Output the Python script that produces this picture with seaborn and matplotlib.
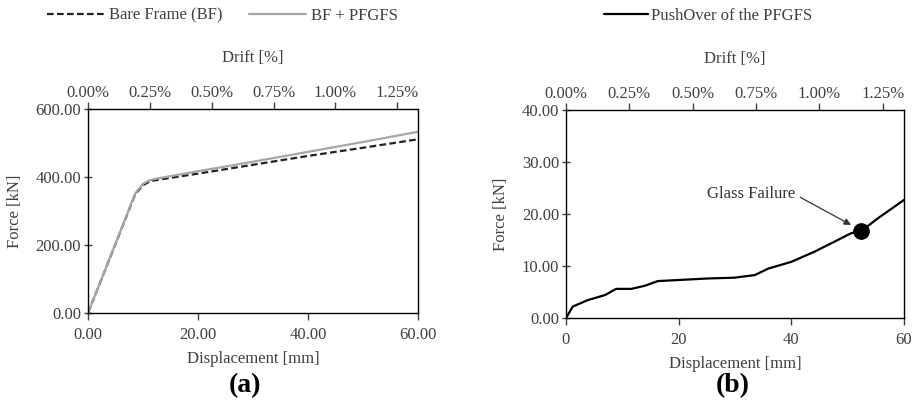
import numpy as np
import pandas as pd
import matplotlib
matplotlib.use("Agg")
import matplotlib.pyplot as plt
import seaborn as sns

# panel (a): bare frame vs frame + glass facade
bf_disp = [0, 8.6, 10.0, 11.0, 12.0, 20.0, 30.0, 40.0, 50.0, 60.0]
bf_force = [0, 350, 376, 385, 390, 410, 436, 462, 486, 511]
pf_disp = [0, 8.6, 10.0, 11.0, 12.0, 20.0, 30.0, 40.0, 50.0, 60.0]
pf_force = [0, 352, 380, 389, 394, 417, 445, 474, 503, 533]

# panel (b): pushover of the PFGFS
po_disp = [0, 1.2, 3.9, 6.9, 8.9, 11.6, 14.0, 16.3, 19.9, 25.2, 29.9, 33.5,
           35.9, 40.0, 44.1, 47.7, 50.6, 52.4, 55.4, 60.0]
po_force = [0, 2.2, 3.45, 4.4, 5.6, 5.6, 6.2, 7.1, 7.3, 7.6, 7.75, 8.25,
            9.5, 10.8, 12.75, 14.7, 16.3, 16.7, 19.2, 22.7]
fail_disp, fail_force = 52.4, 16.7

drift_ticks = [0.0, 0.25, 0.50, 0.75, 1.00, 1.25]
story_h = 4500.0  # mm

sns.set_style("white")
plt.rcParams['font.family'] = ['Liberation Serif', 'DejaVu Serif']
plt.rcParams['font.size'] = 12
txt = '#404040'
plt.rcParams['text.color'] = txt
plt.rcParams['axes.labelcolor'] = txt
plt.rcParams['xtick.color'] = txt
plt.rcParams['ytick.color'] = txt

fig = plt.figure(figsize=(9.16, 4.08), dpi=100)
ax1 = fig.add_axes([0.0961, 0.2328, 0.3602, 0.5000])
ax2 = fig.add_axes([0.6179, 0.2206, 0.3690, 0.5098])

df_a = pd.concat([
    pd.DataFrame({'disp': bf_disp, 'force': bf_force, 'case': 'Bare Frame (BF)'}),
    pd.DataFrame({'disp': pf_disp, 'force': pf_force, 'case': 'BF + PFGFS'}),
])
sns.lineplot(data=df_a, x='disp', y='force', hue='case', style='case',
             palette={'Bare Frame (BF)': '#222222', 'BF + PFGFS': '#a6a6a6'},
             dashes={'Bare Frame (BF)': (3, 1.5), 'BF + PFGFS': ''},
             linewidth=1.6, sort=False, ax=ax1, legend=False)

sns.lineplot(x=po_disp, y=po_force, color='black', linewidth=1.6, sort=False,
             ax=ax2, legend=False)
ax2.plot([fail_disp], [fail_force], 'o', color='black', markersize=11, zorder=5)
ax2.text(32.8, 23.8, 'Glass Failure', ha='center', va='center', color='#333333')
ax2.annotate('', xy=(50.6, 17.9), xytext=(41.6, 23.2),
             arrowprops=dict(arrowstyle='-|>', color='#333333', lw=0.9,
                             mutation_scale=10, shrinkA=0, shrinkB=0))

def to_drift(x):
    return np.asarray(x) / story_h * 100

def to_disp(d):
    return np.asarray(d) * story_h / 100

for ax, ylim, yt, xfmt in [(ax1, 600, [0, 200, 400, 600], '{:.2f}'),
                           (ax2, 40, [0, 10, 20, 30, 40], '{:.0f}')]:
    ax.set_xlim(0, 60)
    ax.set_ylim(0, ylim)
    ax.set_xticks([0, 20, 40, 60])
    ax.set_xticklabels([xfmt.format(v) for v in [0, 20, 40, 60]])
    ax.set_yticks(yt)
    ax.set_yticklabels(['{:.2f}'.format(v) for v in yt])
    ax.set_xlabel('Displacement [mm]', labelpad=6)
    ax.set_ylabel('Force [kN]', labelpad=9)
    for s in ax.spines.values():
        s.set_visible(True)
        s.set_color('black')
        s.set_linewidth(1.0)
    ax.tick_params(axis='x', direction='out', length=5, width=1, bottom=True, pad=5)
    ax.tick_params(axis='y', direction='inout', length=6, width=1, left=True, pad=2)
    top = ax.secondary_xaxis('top', functions=(to_drift, to_disp))
    top.set_xticks(drift_ticks)
    top.set_xticklabels(['{:.2f}%'.format(v) for v in drift_ticks])
    top.tick_params(direction='out', length=5, width=1, pad=1)
    top.set_xlabel('Drift [%]', labelpad=16)
    top.spines['top'].set_visible(False)

fig.text(0.267, 0.055, '(a)', ha='center', va='center', fontsize=20, fontweight='bold', color='black')
fig.text(0.800, 0.055, '(b)', ha='center', va='center', fontsize=20, fontweight='bold', color='black')

h1 = [plt.Line2D([], [], color='#222222', lw=1.6, dashes=(3, 1.5)),
      plt.Line2D([], [], color='#a6a6a6', lw=1.6)]
fig.legend(h1, ['Bare Frame (BF)', 'BF + PFGFS'], loc='center',
           bbox_to_anchor=(0.243, 0.962), ncol=2, frameon=False,
           handlelength=3.4, handletextpad=0.3, columnspacing=1.6)
h2 = [plt.Line2D([], [], color='black', lw=1.6)]
fig.legend(h2, ['PushOver of the PFGFS'], loc='center',
           bbox_to_anchor=(0.773, 0.962), frameon=False,
           handlelength=2.6, handletextpad=0.2)

fig.savefig('out.png', dpi=100)
